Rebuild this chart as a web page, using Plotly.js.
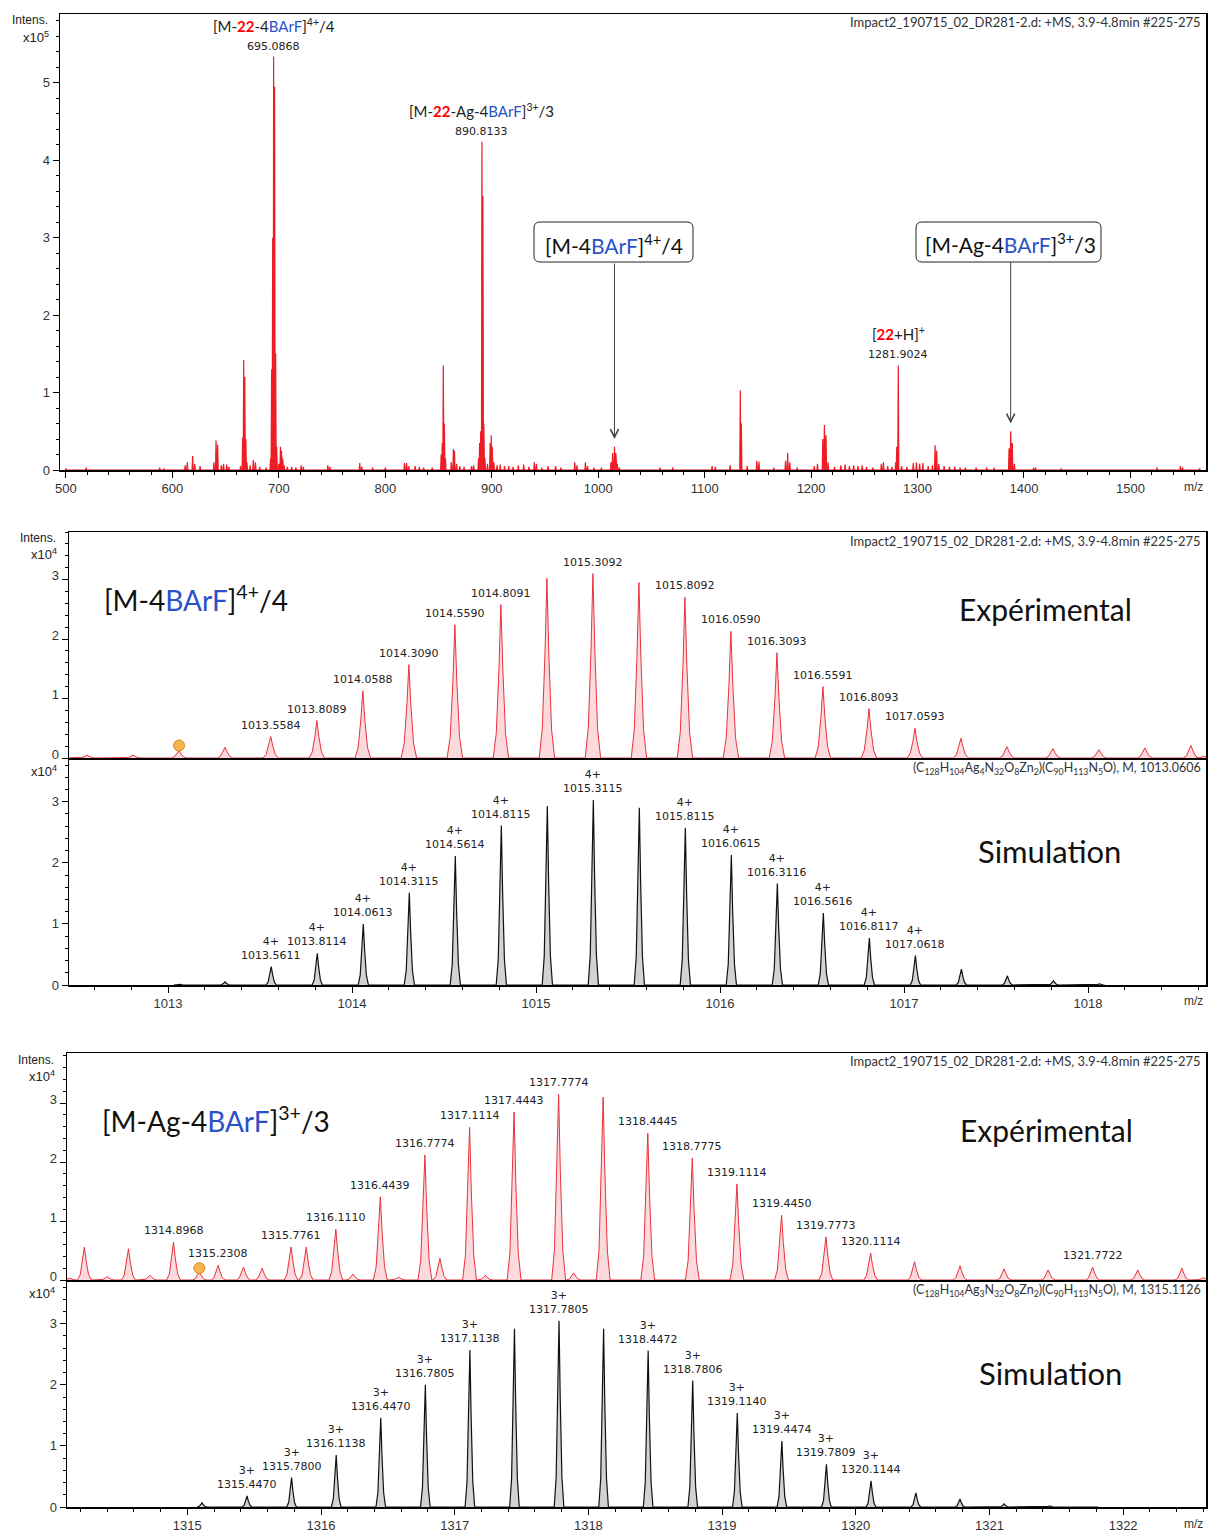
<!DOCTYPE html>
<html><head><meta charset="utf-8">
<script src="https://cdn.plot.ly/plotly-3.0.1.min.js"></script>
<style>html,body{margin:0;padding:0;background:#fff}#chart{width:1208px;height:1533px}</style>
</head><body><div id="chart"></div>
<script>
// ================= DATA =================
// Overview spectrum (m/z, intensity x10^5)
const ovMz = [500,519,588,592,612,614,619,621,626,639,641,642.5,646,648,651,653,664,666,667,668,669,670,673,676,678,682,688,692.2,693.2,694.2,695.0868,696,697,698,700,701.5,702.5,703.5,705,708,712,716,721,723,746,748,776,778,788,800,818,820,822,828,832,836,844,852.5,853.5,854.5,855.5,856.5,862,864,865,867,870,874,881,883,887.6,888.6,889.6,890.8133,891.7,892.6,893.6,896,898.5,899.5,900.5,902,905,908,912,916,920,925,930,935,940,942,947,953,960,965,978,980,988,990,996,1003,1012,1013.5,1015.3,1016.5,1018,1020,1058,1070,1107,1110,1124,1133.5,1134.5,1140,1149,1151,1165,1176,1178,1180,1187,1203,1206,1211,1212.5,1214,1216,1222,1228,1232,1236,1240,1244,1248,1252,1258,1266,1268,1272,1276,1279.5,1280.5,1281.9024,1285,1290,1296,1299,1302,1305,1310,1314,1316.5,1318,1320,1325,1330,1335,1340,1345,1355,1365,1372,1386,1387.5,1389,1391,1409,1411,1435,1525,1547,1549,1565];
const ovInt = [0.02,0.03,0.03,0.02,0.06,0.10,0.18,0.08,0.05,0.10,0.38,0.33,0.06,0.08,0.07,0.04,0.05,0.42,1.42,1.20,0.40,0.10,0.06,0.13,0.10,0.04,0.03,0.15,1.30,3.00,5.34,4.95,1.50,0.30,0.08,0.30,0.25,0.15,0.06,0.04,0.04,0.03,0.06,0.04,0.06,0.04,0.09,0.04,0.03,0.03,0.09,0.09,0.05,0.05,0.04,0.03,0.03,0.20,0.35,1.35,0.60,0.15,0.10,0.27,0.25,0.08,0.05,0.04,0.05,0.06,0.15,0.35,0.50,4.24,3.54,0.60,0.15,0.08,0.35,0.45,0.30,0.10,0.06,0.07,0.05,0.05,0.04,0.06,0.07,0.04,0.10,0.08,0.03,0.05,0.05,0.03,0.10,0.06,0.10,0.05,0.03,0.03,0.10,0.22,0.30,0.22,0.08,0.03,0.03,0.03,0.05,0.04,0.06,1.03,0.60,0.05,0.12,0.11,0.03,0.12,0.22,0.10,0.03,0.05,0.08,0.40,0.58,0.45,0.10,0.04,0.06,0.07,0.05,0.06,0.05,0.06,0.04,0.03,0.08,0.10,0.05,0.04,0.10,0.30,1.35,0.05,0.04,0.09,0.10,0.08,0.09,0.05,0.06,0.32,0.25,0.08,0.05,0.04,0.04,0.03,0.03,0.03,0.03,0.03,0.28,0.50,0.35,0.08,0.03,0.03,0.02,0.03,0.05,0.03,0.02];
const ovLblMz = ['695.0868','890.8133','1281.9024'];
const ovLblTitle = [
  '[M-<span style="color:#ff0000"><b>22</b></span>-4<span style="color:#2a52c8">BArF</span>]<sup>4+</sup>/4',
  '[M-<span style="color:#ff0000"><b>22</b></span>-Ag-4<span style="color:#2a52c8">BArF</span>]<sup>3+</sup>/3',
  '[<span style="color:#ff0000"><b>22</b></span>+H]<sup>+</sup>'];
const ovBoxMz = [1015.3, 1387.5];
const ovBoxText = [
  '[M-4<span style="color:#2a52c8">BArF</span>]<sup>4+</sup>/4',
  '[M-Ag-4<span style="color:#2a52c8">BArF</span>]<sup>3+</sup>/3'];

// [M-4BArF]4+/4 experimental (x10^4)
const exp1Mz = [1012.50,1012.56,1012.81,1013.06,1013.31,1013.5584,1013.8089,1014.0588,1014.3090,1014.5590,1014.8091,1015.0592,1015.3092,1015.5592,1015.8092,1016.0590,1016.3093,1016.5591,1016.8093,1017.0593,1017.3093,1017.5593,1017.8093,1018.0593,1018.3093,1018.5593,1018.63];
const exp1Int = [0.02,0.05,0.05,0.12,0.18,0.36,0.63,1.13,1.57,2.24,2.58,3.02,3.10,2.95,2.70,2.13,1.77,1.20,0.83,0.50,0.33,0.19,0.16,0.14,0.17,0.21,0.03];
const exp1Lbl = ['','','','','','1013.5584','1013.8089','1014.0588','1014.3090','1014.5590','1014.8091','','1015.3092','','1015.8092','1016.0590','1016.3093','1016.5591','1016.8093','1017.0593','','','','','','',''];
const exp1DotMz = [1013.06], exp1DotInt = [0.21];

// [M-4BArF]4+/4 simulation (x10^4)
const sim1Mz = [1013.06,1013.31,1013.5611,1013.8114,1014.0613,1014.3115,1014.5614,1014.8115,1015.0615,1015.3115,1015.5615,1015.8115,1016.0615,1016.3116,1016.5616,1016.8117,1017.0618,1017.3118,1017.5618,1017.8118,1018.0618];
const sim1Int = [0.02,0.05,0.30,0.52,1.00,1.51,2.11,2.61,2.93,3.03,2.90,2.57,2.13,1.66,1.18,0.77,0.48,0.26,0.15,0.07,0.02];
const sim1Lbl = ['','','1013.5611','1013.8114','1014.0613','1014.3115','1014.5614','1014.8115','','1015.3115','','1015.8115','1016.0615','1016.3116','1016.5616','1016.8117','1017.0618','','','',''];
const sim1Charge = '4+';

// [M-Ag-4BArF]3+/3 experimental (x10^4)
const exp2Mz = [1314.12,1314.23,1314.40,1314.56,1314.72,1314.8968,1315.09,1315.2308,1315.42,1315.56,1315.7761,1315.89,1316.1110,1316.24,1316.4439,1316.58,1316.7774,1316.89,1317.1114,1317.23,1317.4443,1317.7774,1317.89,1318.1107,1318.4445,1318.7775,1319.1114,1319.4450,1319.7773,1320.1114,1320.44,1320.78,1321.11,1321.44,1321.7722,1322.11,1322.44,1322.60];
const exp2Int = [0.03,0.56,0.06,0.53,0.08,0.64,0.14,0.25,0.22,0.20,0.56,0.56,0.86,0.10,1.41,0.05,2.12,0.37,2.59,0.08,2.85,3.15,0.12,3.10,2.49,2.07,1.63,1.10,0.73,0.46,0.31,0.24,0.19,0.17,0.22,0.17,0.20,0.04];
const exp2Lbl = ['','','','','','1314.8968','','1315.2308','','','1315.7761','','1316.1110','','1316.4439','','1316.7774','','1317.1114','','1317.4443','1317.7774','','','1318.4445','1318.7775','1319.1114','1319.4450','1319.7773','1320.1114','','','','','1321.7722','','',''];
const exp2DotMz = [1315.09], exp2DotInt = [0.20];

// [M-Ag-4BArF]3+/3 simulation (x10^4)
const sim2Mz = [1315.11,1315.4470,1315.7800,1316.1138,1316.4470,1316.7805,1317.1138,1317.4472,1317.7805,1318.1139,1318.4472,1318.7806,1319.1140,1319.4474,1319.7809,1320.1144,1320.45,1320.78,1321.11,1321.45,1321.78];
const sim2Int = [0.07,0.18,0.48,0.85,1.46,2.00,2.57,2.92,3.05,2.92,2.56,2.07,1.54,1.08,0.70,0.43,0.23,0.13,0.05,0.02,0.01];
const sim2Lbl = ['','1315.4470','1315.7800','1316.1138','1316.4470','1316.7805','1317.1138','','1317.7805','','1318.4472','1318.7806','1319.1140','1319.4474','1319.7809','1320.1144','','','','',''];
const sim2Charge = '3+';

const infoText = 'Impact2_190715_02_DR281-2.d: +MS, 3.9-4.8min #225-275';
const formula1 = '(C<sub>128</sub>H<sub>104</sub>Ag<sub>4</sub>N<sub>32</sub>O<sub>8</sub>Zn<sub>2</sub>)(C<sub>90</sub>H<sub>113</sub>N<sub>5</sub>O), M, 1013.0606';
const formula2 = '(C<sub>128</sub>H<sub>104</sub>Ag<sub>3</sub>N<sub>32</sub>O<sub>8</sub>Zn<sub>2</sub>)(C<sub>90</sub>H<sub>113</sub>N<sub>5</sub>O), M, 1315.1126';
const title1 = '[M-4<span style="color:#2a52c8">BArF</span>]<sup>4+</sup>/4';
const title2 = '[M-Ag-4<span style="color:#2a52c8">BArF</span>]<sup>3+</sup>/3';

// ================= RENDERING =================
const W = 1208, H = 1533;
const PX = p => p / W, PY = p => 1 - p / H;
const LAB = 'Lato, "Open Sans", sans-serif';
const NUM = '"DejaVu Sans", Verdana, sans-serif';
const TICK = '"Liberation Sans", Arial, sans-serif';

// peak profile (style)
const SHAPE_OFF = [-1, -0.6, -0.25, 0, 0.25, 0.6, 1];
const SHAPE_REL = [0, 0.16, 0.58, 1, 0.58, 0.16, 0];
const STICK_OFF = [-1, 0, 1], STICK_REL = [0, 1, 0];
function profile(mz, inten, halfW, off, rel) {
  const xs = [], ys = [];
  mz.forEach((m, i) => off.forEach((o, k) => { xs.push(m + o * halfW); ys.push(rel[k] * inten[i]); }));
  return {xs, ys};
}
const RED = '#ee1c25';
const ov = profile(ovMz, ovInt, 0.5, STICK_OFF, STICK_REL);
const e1 = profile(exp1Mz, exp1Int, 0.042, SHAPE_OFF, SHAPE_REL);
const s1 = profile(sim1Mz, sim1Int, 0.028, SHAPE_OFF, SHAPE_REL);
const e2 = profile(exp2Mz, exp2Int, 0.052, SHAPE_OFF, SHAPE_REL);
const s2 = profile(sim2Mz, sim2Int, 0.036, SHAPE_OFF, SHAPE_REL);

const traces = [
  {x: ov.xs, y: ov.ys, xaxis: 'x', yaxis: 'y', mode: 'lines', line: {color: RED, width: 1.2}, fill: 'tozeroy', fillcolor: RED, hoverinfo: 'skip'},
  {x: e1.xs, y: e1.ys, xaxis: 'x2', yaxis: 'y2', mode: 'lines', line: {color: '#e8323a', width: 1}, fill: 'tozeroy', fillcolor: 'rgba(240,120,128,0.28)', hoverinfo: 'skip'},
  {x: exp1DotMz, y: exp1DotInt, xaxis: 'x2', yaxis: 'y2', mode: 'markers', marker: {size: 11, color: '#f6b44c', line: {color: '#d08a2a', width: 1}}, hoverinfo: 'skip'},
  {x: s1.xs, y: s1.ys, xaxis: 'x3', yaxis: 'y3', mode: 'lines', line: {color: '#111', width: 1.2}, fill: 'tozeroy', fillcolor: '#d2d2d2', hoverinfo: 'skip'},
  {x: e2.xs, y: e2.ys, xaxis: 'x4', yaxis: 'y4', mode: 'lines', line: {color: '#e8323a', width: 1}, fill: 'tozeroy', fillcolor: 'rgba(240,120,128,0.28)', hoverinfo: 'skip'},
  {x: exp2DotMz, y: exp2DotInt, xaxis: 'x4', yaxis: 'y4', mode: 'markers', marker: {size: 11, color: '#f6b44c', line: {color: '#d08a2a', width: 1}}, hoverinfo: 'skip'},
  {x: s2.xs, y: s2.ys, xaxis: 'x5', yaxis: 'y5', mode: 'lines', line: {color: '#111', width: 1.2}, fill: 'tozeroy', fillcolor: '#d2d2d2', hoverinfo: 'skip'}
];

function xAx(domain, range, dtick, minor, showLabels, anchor) {
  return {domain, range, anchor, dtick, tick0: 0, showgrid: false, zeroline: false,
    showline: true, linecolor: '#000', linewidth: 1.5, mirror: true,
    ticks: showLabels ? 'outside' : '', ticklen: 6, tickcolor: '#000', tickwidth: 1,
    minor: showLabels ? {dtick: minor, ticks: 'outside', ticklen: 3, tickcolor: '#000'} : undefined,
    showticklabels: showLabels, tickfont: {family: TICK, size: 13, color: '#333'}, fixedrange: true};
}
function yAx(domain, range, anchor, shift) {
  return {domain, range, anchor, dtick: 1, tick0: 0, showgrid: false, zeroline: false,
    showline: true, linecolor: '#000', linewidth: 1.5, mirror: true,
    ticks: 'outside', ticklen: 6, tickcolor: '#000', tickwidth: 1,
    minor: {dtick: 0.2, ticks: 'outside', ticklen: 3, tickcolor: '#000'},
    ticklabelshift: shift || 0,
    tickfont: {family: TICK, size: 13, color: '#333'}, fixedrange: true};
}
const XD1 = [PX(60), PX(1206)], XD2 = [PX(69), PX(1206)], XD4 = [PX(67), PX(1206)];
const layout = {
  width: W, height: H, margin: {l: 0, r: 0, t: 0, b: 0}, showlegend: false,
  paper_bgcolor: '#fff', plot_bgcolor: '#fff',
  xaxis: xAx(XD1, [494.4, 1571], 100, 20, true, 'y'),
  yaxis: yAx([PY(470), PY(14)], [0, 5.89], 'x'),
  xaxis2: Object.assign(xAx(XD2, [1012.462, 1018.641], 1, 0.2, false, 'y2'), {matches: 'x3'}),
  yaxis2: yAx([PY(758), PY(532)], [0, 3.80], 'x2', -4),
  xaxis3: xAx(XD2, [1012.462, 1018.641], 1, 0.2, true, 'y3'),
  yaxis3: yAx([PY(985), PY(759)], [0, 3.70], 'x3'),
  xaxis4: Object.assign(xAx(XD4, [1314.10, 1322.62], 1, 0.2, false, 'y4'), {matches: 'x5'}),
  yaxis4: yAx([PY(1280), PY(1053)], [0, 3.85], 'x4', -4),
  xaxis5: xAx(XD4, [1314.10, 1322.62], 1, 0.2, true, 'y5'),
  yaxis5: yAx([PY(1507), PY(1281)], [0, 3.70], 'x5'),
  annotations: [], shapes: []
};
const A = layout.annotations;
function nearest(mzArr, intArr, m) {
  let best = 0; mzArr.forEach((v, i) => { if (Math.abs(v - m) < Math.abs(mzArr[best] - m)) best = i; });
  return intArr[best];
}
// overview peak labels
ovLblMz.forEach((s, i) => {
  const m = parseFloat(s), h = nearest(ovMz, ovInt, m);
  A.push({xref: 'x', yref: 'y', x: m, y: h, text: s, showarrow: false, yanchor: 'bottom', yshift: 2, font: {family: NUM, size: 11, color: '#222'}});
  A.push({xref: 'x', yref: 'y', x: m, y: h, text: ovLblTitle[i], showarrow: false, yanchor: 'bottom', yshift: 20, font: {family: LAB, size: 15, color: '#222'}});
});
// boxed labels with arrows (rounded box drawn as a shape)
const boxAy = [-195, -181];
const boxPx = [[534, 693, 222, 262], [916, 1101, 222, 262]];
ovBoxMz.forEach((m, i) => {
  const h = nearest(ovMz, ovInt, m);
  A.push({xref: 'x', yref: 'y', x: m, y: h + 0.1, ax: 0, ay: boxAy[i], text: ovBoxText[i], showarrow: true,
    arrowhead: 5, arrowsize: 1.6, arrowwidth: 1, arrowcolor: '#444', borderpad: 5,
    font: {family: LAB, size: 21, color: '#111'}});
  const [l, r, t, b] = boxPx[i], rr = 6;
  const p = (x, y) => PX(x) + ',' + PY(y);
  layout.shapes.push({type: 'path', xref: 'paper', yref: 'paper', line: {color: '#222', width: 1},
    path: 'M' + p(l + rr, t) + ' L' + p(r - rr, t) + ' Q' + p(r, t) + ' ' + p(r, t + rr) + ' L' + p(r, b - rr) +
      ' Q' + p(r, b) + ' ' + p(r - rr, b) + ' L' + p(l + rr, b) + ' Q' + p(l, b) + ' ' + p(l, b - rr) +
      ' L' + p(l, t + rr) + ' Q' + p(l, t) + ' ' + p(l + rr, t) + ' Z'});
});
// zoom panels peak labels
function peakLabels(mz, inten, lbl, xr, yr, charge) {
  mz.forEach((m, i) => {
    if (!lbl[i]) return;
    A.push({xref: xr, yref: yr, x: m, y: inten[i], text: (charge ? charge + '<br>' : '') + lbl[i], showarrow: false,
      yanchor: 'bottom', yshift: 3, font: {family: NUM, size: 11, color: '#222'}});
  });
}
peakLabels(exp1Mz, exp1Int, exp1Lbl, 'x2', 'y2', '');
peakLabels(sim1Mz, sim1Int, sim1Lbl, 'x3', 'y3', sim1Charge);
peakLabels(exp2Mz, exp2Int, exp2Lbl, 'x4', 'y4', '');
peakLabels(sim2Mz, sim2Int, sim2Lbl, 'x5', 'y5', sim2Charge);

function paperText(px, py, text, size, family, anchor, color) {
  A.push({xref: 'paper', yref: 'paper', x: PX(px), y: PY(py), text, showarrow: false,
    xanchor: anchor || 'center', yanchor: 'middle', font: {family, size, color: color || '#111'}});
}
// info texts
[22, 541, 1061].forEach(py => paperText(1203, py, infoText, 13, LAB, 'right', '#333'));
paperText(1203, 768, formula1, 12.5, LAB, 'right', '#333');
paperText(1203, 1290, formula2, 12.5, LAB, 'right', '#333');
// big labels
paperText(102, 598, title1, 28, LAB, 'left');
paperText(100, 1119, title2, 28, LAB, 'left');
paperText(1045, 609, 'Expérimental', 30, LAB, 'center');
paperText(1049, 851, 'Simulation', 31, LAB, 'center');
paperText(1046, 1130, 'Expérimental', 30, LAB, 'center');
paperText(1050, 1373, 'Simulation', 31, LAB, 'center');
// axis unit labels
paperText(50, 20, 'Intens.', 12, TICK, 'right', '#222');
paperText(51, 37, 'x10<sup>5</sup>', 13, TICK, 'right', '#222');
paperText(58, 538, 'Intens.', 12, TICK, 'right', '#222');
paperText(59, 554, 'x10<sup>4</sup>', 13, TICK, 'right', '#222');
paperText(59, 771, 'x10<sup>4</sup>', 13, TICK, 'right', '#222');
paperText(56, 1060, 'Intens.', 12, TICK, 'right', '#222');
paperText(57, 1076, 'x10<sup>4</sup>', 13, TICK, 'right', '#222');
paperText(57, 1293, 'x10<sup>4</sup>', 13, TICK, 'right', '#222');
// m/z labels
[487, 1001, 1524].forEach(py => paperText(1193, py, 'm/z', 12, TICK, 'center', '#333'));

Plotly.newPlot('chart', traces, layout, {staticPlot: true, displayModeBar: false});
</script></body></html>
